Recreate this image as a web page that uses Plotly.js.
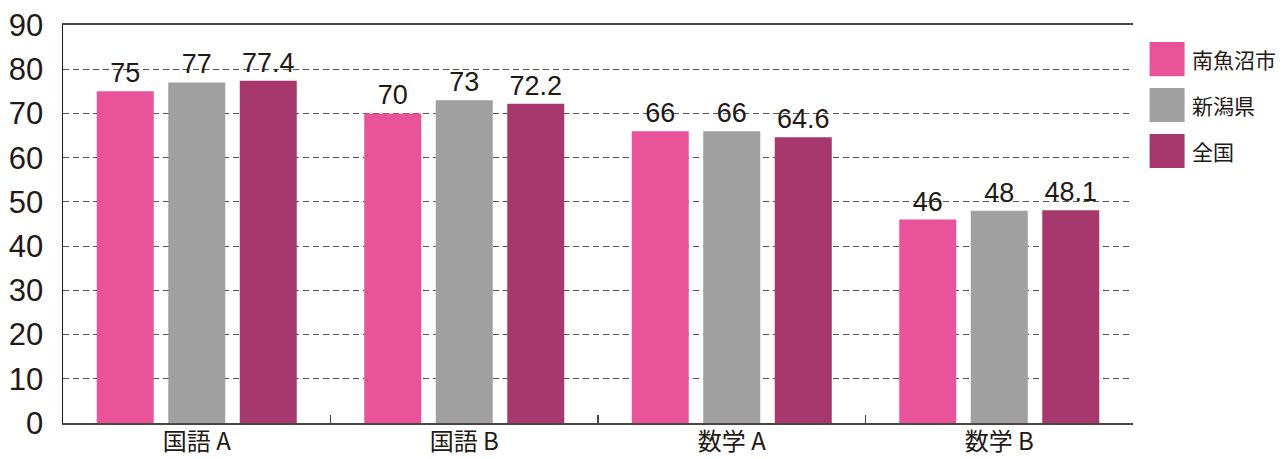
<!DOCTYPE html>
<html><head><meta charset="utf-8">
<script src="https://cdn.plot.ly/plotly-3.0.1.min.js"></script>
<style>html,body{margin:0;padding:0;background:#fff}#c{width:1282px;height:459px}</style>
</head><body><div id="c"></div>
<script>
const categories = ['国語 A','国語 B','数学 A','数学 B'];
const seriesNames = ['南魚沼市','新潟県','全国'];
const minamiuonuma = [75, 70, 66, 46];
const niigata = [77, 73, 66, 48];
const zenkoku = [77.4, 72.2, 64.6, 48.1];
const colors = ['#E8539A','#A0A0A0','#A6386D'];
const yTicks = [0,10,20,30,40,50,60,70,80,90];

const numFont = 'Liberation Sans, Arial, sans-serif';
const jpFont = 'Noto Sans CJK JP, sans-serif';
const values = [minamiuonuma, niigata, zenkoku];
const traces = values.map((v,i)=>({
  type:'bar', x:categories, y:v, name:seriesNames[i],
  marker:{color:colors[i]},
  text:v.map(String), textposition:'outside', cliponaxis:false,
  textfont:{family:numFont,size:27,color:'#231815'},
  showlegend:false, hoverinfo:'none'
}));

const shapes = [];
const annotations = [];
seriesNames.forEach((n,i)=>{
  const y0 = 0.957 - i*0.1155;
  shapes.push({type:'rect',xref:'paper',yref:'paper',x0:1.0155,x1:1.0482,y0:y0-0.0855,y1:y0,fillcolor:colors[i],line:{width:0}});
  annotations.push({xref:'paper',yref:'paper',x:1.053,y:y0-0.043,xanchor:'left',yanchor:'middle',text:n,showarrow:false,font:{family:jpFont,size:21,color:'#231815'}});
});

const layout = {
  width:1282, height:459,
  margin:{l:63,r:149,t:25,b:36},
  paper_bgcolor:'#fff', plot_bgcolor:'#fff',
  barmode:'group', bargap:0.198, bargroupgap:0.203,
  xaxis:{type:'category', showline:true, mirror:true, linecolor:'#4a4444', linewidth:2,
    ticks:'inside', tickson:'boundaries', ticklen:8, tickcolor:'#4a4444', tickwidth:1.5,
    showgrid:false, tickfont:{family:jpFont,size:24,color:'#231815'}, ticklabelstandoff:-4, automargin:false},
  yaxis:{range:[0,90], tickvals:yTicks, ticktext:yTicks.map(String), showline:true, linecolor:'#231815', linewidth:1.5,
    ticks:'', showgrid:true, gridcolor:'#555', gridwidth:1, griddash:'6px,4px', zeroline:false,
    tickfont:{family:numFont,size:31,color:'#231815'}, ticklabelstandoff:12, automargin:false},
  shapes:shapes, annotations:annotations, font:{family:jpFont}
};
Plotly.newPlot('c', traces, layout, {staticPlot:true, displayModeBar:false});
</script></body></html>
